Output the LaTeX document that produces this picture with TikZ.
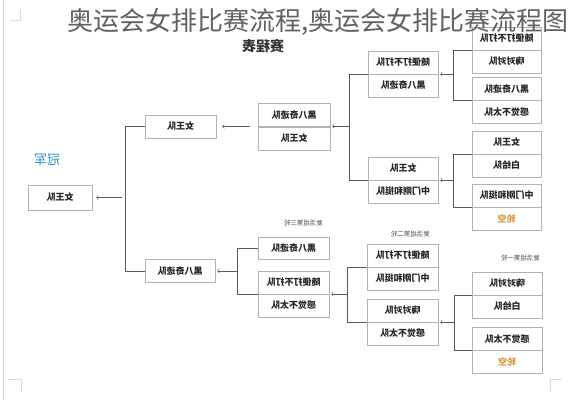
\documentclass[tikz,border=0pt]{standalone}
\usepackage{fontspec}
\setmainfont{Noto Sans CJK SC}
\usepackage{graphicx}
\usetikzlibrary{positioning}

\definecolor{champblue}{HTML}{2F8FC6}
\definecolor{byeorange}{HTML}{D9993A}
\newcommand{\flip}[1]{\reflectbox{#1}}

\tikzset{
  team/.style={draw=gray!60, fill=white, minimum width=70pt, minimum height=23pt,
    inner sep=0pt, font=\fontsize{9}{10}\selectfont\bfseries, text=black!85},
  link/.style={black!65, line width=0.6pt},
  arr/.style={link, -to, shorten >=2pt},
  roundlabel/.style={font=\fontsize{6.5}{8}\selectfont, text=black!70, inner sep=0pt},
}

\begin{document}
\begin{tikzpicture}[x=1pt, y=-1pt]
  \useasboundingbox[fill=white] (0,0) rectangle (569,400);

  % faint page marks
  \draw[gray!30] (3,0) -- (3,400);
  \draw[gray!30] (8,379) -- (21,379) -- (21,392);
  \draw[gray!30] (562,379) -- (550,379) -- (550,392);
  \draw[gray!30] (10,20) -- (20,20) -- (20,10);

  % header
  \node[font=\fontsize{14}{16}\selectfont\bfseries, text=black!80] (head) at (263,46) {\flip{赛程表}};

  % champion
  \node[text=champblue, font=\fontsize{13}{15}\selectfont] (champlabel) at (47,160) {\flip{冠军}};
  \node[team, minimum width=64pt, minimum height=25pt] (champ) at (60,197.5) {\flip{女王队}};

  % final
  \node[team, minimum width=71pt] (fin1) at (180.5,126.5) {\flip{女王队}};
  \node[team] (fin2) at (180,271) {\flip{黑八奇迹队}};

  % semifinal
  \node[team, minimum width=72pt] (s1) at (294,114.75) {\flip{黑八奇迹队}};
  \node[team, minimum width=72pt] (s2) at (294,138.25) {\flip{女王队}};

  % quarterfinal
  \node[team] (q1) at (403,62.5) {\flip{随便打不打队}};
  \node[team] (q2) at (403,85.5) {\flip{黑八奇迹队}};
  \node[team] (q3) at (403,168.5) {\flip{女王队}};
  \node[team] (q4) at (403,191.5) {\flip{中门刚和挺队}};

  % first round
  \node[team, minimum width=69pt] (r1) at (506.5,38.5) {\flip{随便打不打队}};
  \node[team, minimum width=69pt] (r2) at (506.5,61.5) {\flip{嗨对对队}};
  \node[team, minimum width=69pt] (r3) at (506.5,89) {\flip{黑八奇迹队}};
  \node[team, minimum width=69pt] (r4) at (506.5,112) {\flip{感觉不太队}};
  \node[team, minimum width=69pt] (r5) at (506.5,142.5) {\flip{女王队}};
  \node[team, minimum width=69pt] (r6) at (506.5,165.5) {\flip{白给队}};
  \node[team, minimum width=69pt] (r7) at (506.5,195.5) {\flip{中门刚和挺队}};
  \node[team, minimum width=69pt, text=byeorange] (r8) at (506.5,218.5) {\flip{轮空}};

  % repechage
  \node[team, minimum width=71pt, minimum height=22pt] (l1) at (293.5,248) {\flip{黑八奇迹队}};
  \node[team, minimum width=71pt] (l2) at (293.5,282.5) {\flip{随便打不打队}};
  \node[team, minimum width=71pt] (l3) at (293.5,305.5) {\flip{感觉不太队}};
  \node[roundlabel, anchor=east] (lab3) at (323,223) {\flip{复活组第三轮}};

  \node[team, minimum width=71pt] (m1) at (402.5,255.5) {\flip{随便打不打队}};
  \node[team, minimum width=71pt] (m2) at (402.5,278.5) {\flip{中门刚和挺队}};
  \node[team, minimum width=71pt] (m3) at (402.5,310.5) {\flip{嗨对对队}};
  \node[team, minimum width=71pt] (m4) at (402.5,333.5) {\flip{感觉不太队}};
  \node[roundlabel, anchor=east] (lab2) at (430,234) {\flip{复活组第二轮}};

  \node[team] (n1) at (507,283.5) {\flip{嗨对对队}};
  \node[team] (n2) at (507,306.5) {\flip{白给队}};
  \node[team] (n3) at (507,339) {\flip{感觉不太队}};
  \node[team, text=byeorange] (n4) at (507,362) {\flip{轮空}};
  \node[roundlabel, anchor=east] (lab1) at (540,258) {\flip{复活组第一轮}};

  % brackets, main draw
  \draw[link] (r1.south west) -- ++(-19,0) |- (r3.south west);
  \draw[arr] (q1.south east) ++(15,0) -- (q1.south east);
  \draw[link] (r5.south west) -- ++(-19,0) |- (r7.south west);
  \draw[arr] (q3.south east) ++(15,0) -- (q3.south east);
  \draw[link] (q1.south west) -- ++(-19,0) |- (q3.south west);
  \draw[arr] (s1.south east) ++(19,0) -- (s1.south east);
  \draw[arr, shorten <=8pt, shorten >=6pt] (s1.south west) -- (fin1.east);
  \draw[link] (fin1.west) -- ++(-20,0) |- (fin2.west);
  \draw[arr, shorten <=3pt, shorten >=4pt] (champ.east) ++(33,0) -- (champ.east);

  % brackets, repechage
  \draw[link] (n1.south west) -- ++(-18,0) |- (n3.south west);
  \draw[arr] (m3.south east) ++(16,0) -- (m3.south east);
  \draw[link] (m1.south west) -- ++(-20,0) |- (m3.south west);
  \draw[arr] (l2.south east) ++(18,0) -- (l2.south east);
  \draw[link] (l1.west) -- ++(-21,0) |- (l2.south west);
  \draw[arr] (fin2.east) ++(22,0) -- (fin2.east);

  % overlay title
  \node[anchor=west, inner sep=0pt, font=\fontsize{26}{28}\selectfont, text=black!62] (title) at (67,22)
    {奥运会女排比赛流程,奥运会女排比赛流程图};
\end{tikzpicture}
\end{document}
